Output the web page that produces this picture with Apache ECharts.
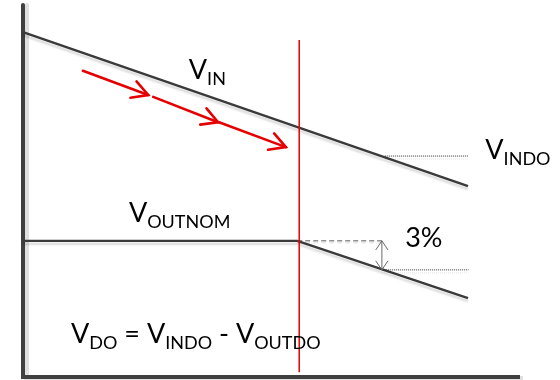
<!DOCTYPE html>
<html>
<head>
<meta charset="utf-8">
<script src="https://cdn.jsdelivr.net/npm/echarts@6/dist/echarts.min.js"></script>
<style>
  html, body { margin: 0; padding: 0; background: #fff; }
  #chart { width: 560px; height: 380px; }
</style>
</head>
<body>
<div id="chart"></div>
<script>
// chart units: x 0..100 along the horizontal axis, y 0..100 up the vertical axis
var vinLine = [[0, 92.7], [89.9, 51.3]];
var voutLine = [[0, 36.6], [55.4, 36.6], [89.9, 21.2]];
var dropoutLine = [[55.8, 1.3], [55.8, 90.6]];
var voutNomRef = [[55.4, 36.6], [72.5, 36.6]];
var vindoLevel = [[73.1, 59.4], [90, 59.4]];
var voutdoLevel = [[72.5, 28.8], [90, 28.8]];
// red arrows: [fromX, fromY, toX, toY]
var flowArrows = [
    [12.1, 82.3, 25.3, 75.8],
    [26.3, 75.3, 39.4, 68.5],
    [39.6, 68.5, 53.1, 61.8]
];
// 3% span: [x, topY, bottomY]
var dropSpan = [[72.5, 36.6, 28.8]];
var labelText = [
    '{m|V}{s|IN}',
    '{m|V}{s|INDO}',
    '{m|V}{s|OUTNOM}',
    '{m|3%}',
    '{m|V}{s|DO}{m| = V}{s|INDO}{m| - V}{s|OUTDO}'
];
var labelX = [33.5, 93.4, 21.4, 77.2, 9.7];
var labelY = [77.7, 56.2, 39.2, 32.5, 6.7];

var dom = document.getElementById('chart');
var myChart = echarts.init(dom);

var darkLine = {
    color: '#3a3a3a', width: 2.3,
    shadowColor: 'rgba(0,0,0,0.15)', shadowOffsetY: 3, shadowBlur: 2
};

function lineSeries(data, style) {
    return {
        type: 'line', data: data, symbol: 'none', silent: true,
        lineStyle: style, z: 3
    };
}

function chevron(tip, ang, len, spread) {
    return [
        [tip[0] - len * Math.cos(ang - spread), tip[1] - len * Math.sin(ang - spread)],
        tip,
        [tip[0] - len * Math.cos(ang + spread), tip[1] - len * Math.sin(ang + spread)]
    ];
}

function renderFlowArrow(params, api) {
    var p0 = api.coord([api.value(0), api.value(1)]);
    var p1 = api.coord([api.value(2), api.value(3)]);
    var ang = Math.atan2(p1[1] - p0[1], p1[0] - p0[0]);
    var st = { stroke: '#e50000', lineWidth: 2.6, fill: null, lineCap: 'round' };
    return {
        type: 'group',
        children: [
            { type: 'line', shape: { x1: p0[0], y1: p0[1], x2: p1[0], y2: p1[1] }, style: st },
            { type: 'polyline', shape: { points: chevron(p1, ang, 18, 29 * Math.PI / 180) }, style: st }
        ]
    };
}

function renderDropSpan(params, api) {
    var top = api.coord([api.value(0), api.value(1)]);
    var bot = api.coord([api.value(0), api.value(2)]);
    var st = { stroke: '#6a6a6a', lineWidth: 1, fill: null };
    var sp = 34 * Math.PI / 180;
    return {
        type: 'group',
        children: [
            { type: 'line', shape: { x1: top[0], y1: top[1], x2: bot[0], y2: bot[1] }, style: st },
            { type: 'polyline', shape: { points: chevron(top, -Math.PI / 2, 11, sp) }, style: st },
            { type: 'polyline', shape: { points: chevron(bot, Math.PI / 2, 11, sp) }, style: st }
        ]
    };
}

var fontFamily = 'Lato, "Open Sans", sans-serif';

function renderLabel(params, api) {
    var p = api.coord([api.value(0), api.value(1)]);
    return {
        type: 'text',
        x: p[0], y: p[1],
        style: {
            text: labelText[api.value(2)],
            align: 'left',
            verticalAlign: 'bottom',
            fill: '#000',
            rich: {
                m: { fontSize: 27, lineHeight: 27, fontFamily: fontFamily, fill: '#000',
                     verticalAlign: 'bottom', padding: [0, 0, 4, 0] },
                s: { fontSize: 18, lineHeight: 18, fontFamily: fontFamily, fill: '#000',
                     verticalAlign: 'bottom' }
            }
        }
    };
}

var labelData = [];
for (var i = 0; i < labelText.length; i++) {
    labelData.push([labelX[i], labelY[i], i]);
}

var axisCommon = {
    type: 'value', min: 0, max: 100,
    axisTick: { show: false },
    axisLabel: { show: false },
    splitLine: { show: false }
};

option = {
    animation: false,
    backgroundColor: '#fff',
    grid: { left: 23, right: 42, top: 5, bottom: 3 },
    xAxis: Object.assign({}, axisCommon, {
        axisLine: { show: true, onZero: false, lineStyle: {
            color: '#404040', width: 4, cap: 'square',
            shadowColor: 'rgba(0,0,0,0.12)', shadowOffsetX: 3, shadowOffsetY: 1
        } }
    }),
    yAxis: Object.assign({}, axisCommon, {
        axisLine: { show: true, onZero: false, lineStyle: {
            color: '#404040', width: 4,
            shadowColor: 'rgba(0,0,0,0.12)', shadowOffsetX: 4
        } }
    }),
    series: [
        lineSeries(vinLine, darkLine),
        lineSeries(voutLine, darkLine),
        lineSeries(voutNomRef, { color: '#555', width: 1, type: [5, 3],
            shadowColor: 'rgba(0,0,0,0.12)', shadowOffsetY: 2 }),
        lineSeries(vindoLevel, { color: '#333', width: 1, type: [1, 1],
            shadowColor: 'rgba(0,0,0,0.12)', shadowOffsetY: 3 }),
        lineSeries(voutdoLevel, { color: '#333', width: 1, type: [1, 1],
            shadowColor: 'rgba(0,0,0,0.12)', shadowOffsetY: 3 }),
        lineSeries(dropoutLine, { color: '#e50000', width: 1.5 }),
        { type: 'custom', renderItem: renderFlowArrow, data: flowArrows, silent: true, clip: false, z: 4 },
        { type: 'custom', renderItem: renderDropSpan, data: dropSpan, silent: true, clip: false, z: 4 },
        { type: 'custom', renderItem: renderLabel, data: labelData, silent: true, clip: false, z: 5 }
    ]
};

if (option && typeof option === "object") {
    myChart.setOption(option, true);
}
</script>
</body>
</html>
